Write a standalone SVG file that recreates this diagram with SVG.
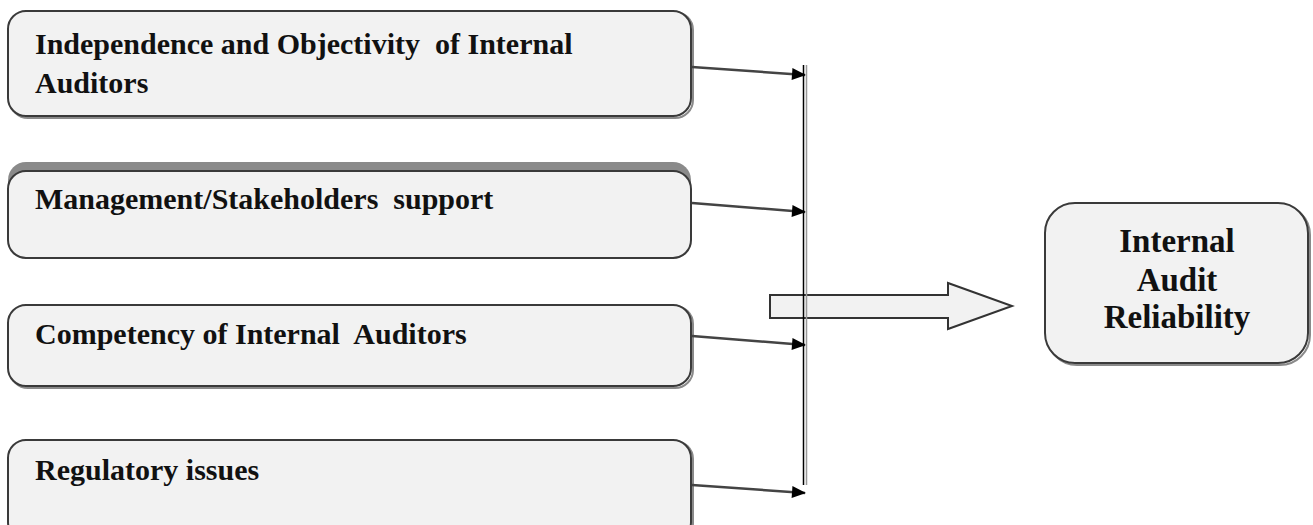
<svg xmlns="http://www.w3.org/2000/svg" width="1313" height="525" viewBox="0 0 1313 525">
<defs>
<style>
.box{fill:#f2f2f2;stroke:#3a3a3a;stroke-width:2}
.shadow{fill:none;stroke:#8a8a8a;stroke-width:2}
.lbl{font-family:"Liberation Serif","Times New Roman",serif;font-weight:bold;font-size:30px;fill:#111;white-space:pre}
.big{font-family:"Liberation Serif","Times New Roman",serif;font-weight:bold;font-size:33px;fill:#111;text-anchor:middle}
.con{stroke:#444;stroke-width:2.5;fill:none;marker-end:url(#ah)}
</style>
<marker id="ah" viewBox="0 0 14 12" refX="13" refY="6" markerWidth="14" markerHeight="12" markerUnits="userSpaceOnUse" orient="auto" overflow="visible">
<path d="M0,0 L14,6 L0,12 z" fill="#000"/>
</marker>
</defs>
<rect width="1313" height="525" fill="#fff"/>

<g id="node-independence">
<rect class="shadow" x="10" y="12" width="683" height="106" rx="18"/>
<rect class="box" x="8" y="11" width="683" height="105" rx="18"/>
<text class="lbl" x="35" y="54">Independence and Objectivity&#160; of Internal</text>
<text class="lbl" x="35" y="93">Auditors</text>
</g>

<g id="node-management">
<rect x="8" y="162" width="683" height="96" rx="18" fill="#8a8a8a"/>
<rect class="box" x="8" y="171" width="683" height="87" rx="18"/>
<text class="lbl" x="35" y="209">Management/Stakeholders&#160; support</text>
</g>

<g id="node-competency">
<rect class="shadow" x="10" y="306" width="683" height="82" rx="18"/>
<rect class="box" x="8" y="305" width="683" height="81" rx="18"/>
<text class="lbl" x="35" y="344">Competency of Internal&#160; Auditors</text>
</g>

<g id="node-regulatory">
<rect class="shadow" x="10" y="441" width="683" height="100" rx="18"/>
<rect class="box" x="8" y="440" width="683" height="100" rx="18"/>
<text class="lbl" x="35" y="480">Regulatory issues</text>
</g>

<g id="node-reliability">
<rect class="shadow" x="1047" y="205" width="263" height="160" rx="30"/>
<rect class="box" x="1045" y="203" width="263" height="160" rx="30"/>
<text class="big" x="1177" y="252">Internal</text>
<text class="big" x="1177" y="291">Audit</text>
<text class="big" x="1177" y="328">Reliability</text>
</g>

<g id="connectors">
<polygon points="770,295 948,295 948,283 1012,306 948,329 948,318 770,318" fill="#f2f2f2" stroke="#333" stroke-width="2" stroke-linejoin="miter"/>
<line class="con" x1="692" y1="67" x2="805" y2="75"/>
<line class="con" x1="692" y1="203" x2="805" y2="212"/>
<line class="con" x1="692" y1="336" x2="805" y2="345"/>
<line class="con" x1="692" y1="485" x2="805" y2="493"/>
<line x1="803.5" y1="65" x2="803.5" y2="485" stroke="#000" stroke-width="1.5"/>
<line x1="806.5" y1="65" x2="806.5" y2="485" stroke="#999" stroke-width="1.5"/>
</g>
</svg>
